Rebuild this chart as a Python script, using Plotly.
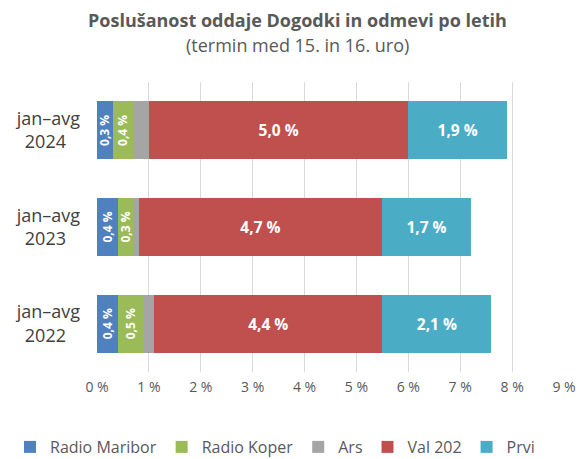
import plotly.graph_objects as go

categories = ["jan–avg<br>2022", "jan–avg<br>2023", "jan–avg<br>2024"]
series_names = ["Radio Maribor", "Radio Koper", "Ars", "Val 202", "Prvi"]
radio_maribor = [0.4, 0.4, 0.3]
radio_koper = [0.5, 0.3, 0.4]
ars = [0.2, 0.1, 0.3]
val_202 = [4.4, 4.7, 5.0]
prvi = [2.1, 1.7, 1.9]
x_ticks = [0, 1, 2, 3, 4, 5, 6, 7, 8, 9]
x_tick_labels = [f"{t} %" for t in x_ticks]

colors = ["#4F81BD", "#9BBB59", "#A5A5A5", "#C0504D", "#4BACC6"]
values = [radio_maribor, radio_koper, ars, val_202, prvi]
show_label = [True, True, False, True, True]
angles = [-90, -90, 0, 0, 0]
sizes = [12, 12, 12, 15.5, 15.5]

def fmt(v):
    return f"{v:.1f} %".replace(".", ",")

# centre the two-line category labels (year line padded to the width of the first line)
cat_labels = [c + "&nbsp;&nbsp;&nbsp;" for c in categories]

FONT = "'Open Sans', sans-serif"
fig = go.Figure()
for name, vals, col, sl, ang, sz in zip(series_names, values, colors, show_label, angles, sizes):
    fig.add_trace(go.Bar(
        y=categories, x=vals, name=name, orientation="h",
        marker=dict(color=col, line=dict(width=0)),
        text=[fmt(v) for v in vals] if sl else None,
        textposition="inside" if sl else "none",
        insidetextanchor="middle",
        textangle=ang,
        textfont=dict(color="white", size=sz, family=FONT, weight="bold"),
        constraintext="none",
        hoverinfo="x+name",
    ))

fig.add_annotation(
    text="<b>Poslušanost oddaje Dogodki in odmevi po letih</b>",
    xref="paper", yref="paper", x=(297 - 97) / 467, y=1.0, yshift=62,
    xanchor="center", yanchor="middle", showarrow=False,
    font=dict(size=18, color="#595959", family=FONT),
)
fig.add_annotation(
    text="(termin med 15. in 16. uro)",
    xref="paper", yref="paper", x=(297 - 97) / 467, y=1.0, yshift=37,
    xanchor="center", yanchor="middle", showarrow=False,
    font=dict(size=18, color="#595959", family=FONT),
)

fig.update_layout(
    barmode="stack",
    bargap=0.4,
    width=581, height=459,
    margin=dict(l=97, r=17, t=82, b=87, autoexpand=False),
    paper_bgcolor="white", plot_bgcolor="white",
    font=dict(family=FONT, color="#595959"),
    xaxis=dict(
        range=[0, 9], tickvals=x_ticks, ticktext=x_tick_labels,
        showgrid=True, gridcolor="#D9D9D9", gridwidth=1,
        zeroline=False, showline=False, ticks="",
        tickfont=dict(size=14, color="#595959"),
        ticklabelstandoff=5,
        automargin=False,
    ),
    yaxis=dict(
        showgrid=False, zeroline=False, showline=False, ticks="",
        tickvals=categories, ticktext=cat_labels,
        tickfont=dict(size=18, color="#404040"),
        ticklabelstandoff=16,
        automargin=False,
    ),
    legend=dict(
        orientation="h", x=(10 - 97) / 467, xanchor="left",
        y=-75 / 290, yanchor="middle",
        font=dict(size=16, color="#595959"),
        traceorder="normal",
        itemwidth=30,
    ),
    showlegend=True,
)

fig.write_html("out.html", post_script="document.body.style.margin='0';",
               config={"displayModeBar": False})
